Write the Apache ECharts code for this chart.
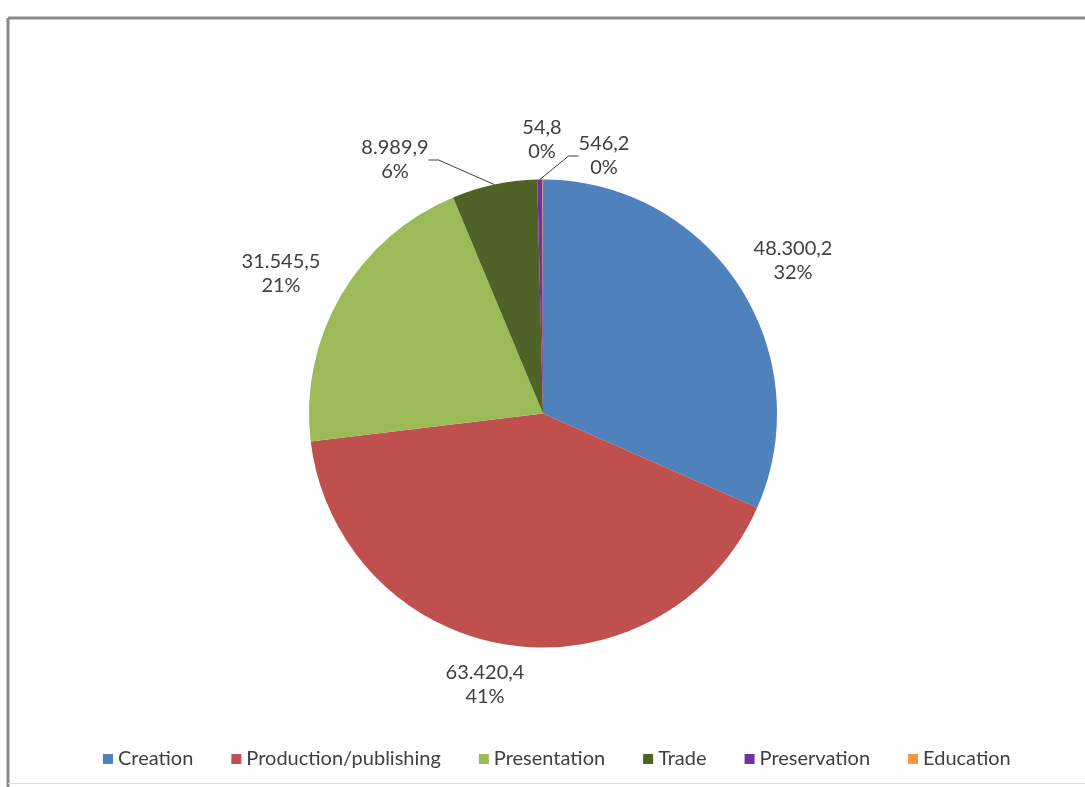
<!DOCTYPE html>
<html>
<head>
<meta charset="utf-8">
<title>Cultural sector by function</title>
<script src="https://cdn.jsdelivr.net/npm/echarts@6/dist/echarts.min.js"></script>
<style>
  html, body { margin: 0; padding: 0; background: #ffffff; }
  #chart { width: 1085px; height: 787px; }
</style>
</head>
<body>
<div id="chart"></div>
<script>
// Functions of the cultural value chain and their totals
const categories = ['Creation', 'Production/publishing', 'Presentation', 'Trade', 'Preservation', 'Education'];
const values = [48300.2, 63420.4, 31545.5, 8989.9, 546.2, 54.8];
const colors = ['#4F81BD', '#C0504D', '#9BBB59', '#4F6228', '#7030A0', '#F79646'];

// Small slices whose labels are tied back with a leader line
const leaderLabels = ['Trade', 'Preservation'];

// Label anchor points (label centres) for each slice
const labelAnchors = [
  [793, 261],
  [485, 685],
  [281, 274],
  [395, 160],
  [604, 156],
  [542, 140]
];

const TEXT = '#404040';
const FONT = 'Lato, "Open Sans", sans-serif';

// 48300.2 -> "48.300,2"
function formatValue(v) {
  const parts = v.toFixed(1).split('.');
  const whole = parts[0].replace(/\B(?=(\d{3})+(?!\d))/g, '.');
  return whole + ',' + parts[1];
}

const pieData = categories.map((name, i) => ({
  name: name,
  value: values[i],
  itemStyle: { color: colors[i] },
  labelLine: { show: leaderLabels.indexOf(name) >= 0 }
}));

const chart = echarts.init(document.getElementById('chart'), null, { renderer: 'canvas' });

chart.setOption({
  backgroundColor: '#ffffff',
  animation: false,
  graphic: [
    { type: 'line', shape: { x1: 8, y1: 18, x2: 1085, y2: 18 }, style: { stroke: '#8a8a8a', lineWidth: 3 }, silent: true },
    { type: 'line', shape: { x1: 8, y1: 18, x2: 8, y2: 787 }, style: { stroke: '#8a8a8a', lineWidth: 3 }, silent: true },
    { type: 'line', shape: { x1: 8, y1: 783.5, x2: 1085, y2: 783.5 }, style: { stroke: '#dedede', lineWidth: 1 }, silent: true }
  ],
  legend: {
    data: categories,
    bottom: 13,
    left: 98,
    itemWidth: 10,
    itemHeight: 10,
    itemGap: 38,
    icon: 'rect',
    textStyle: { color: TEXT, fontFamily: FONT, fontSize: 20 }
  },
  series: [{
    type: 'pie',
    center: [543, 413.5],
    radius: 234,
    startAngle: 90,
    clockwise: true,
    avoidLabelOverlap: false,
    data: pieData,
    itemStyle: { borderWidth: 0 },
    label: {
      show: true,
      position: 'outside',
      color: TEXT,
      fontFamily: FONT,
      fontSize: 20,
      lineHeight: 24,
      align: 'center',
      formatter: function (p) {
        return formatValue(p.value) + '\n' + Math.round(p.percent) + '%';
      }
    },
    labelLine: {
      show: false,
      length: 10,
      length2: 10,
      lineStyle: { color: TEXT, width: 1 }
    },
    labelLayout: function (params) {
      const a = labelAnchors[params.dataIndex];
      return { x: a[0], y: a[1], align: 'center', verticalAlign: 'middle' };
    },
    emphasis: { disabled: true }
  }]
});
</script>
</body>
</html>
